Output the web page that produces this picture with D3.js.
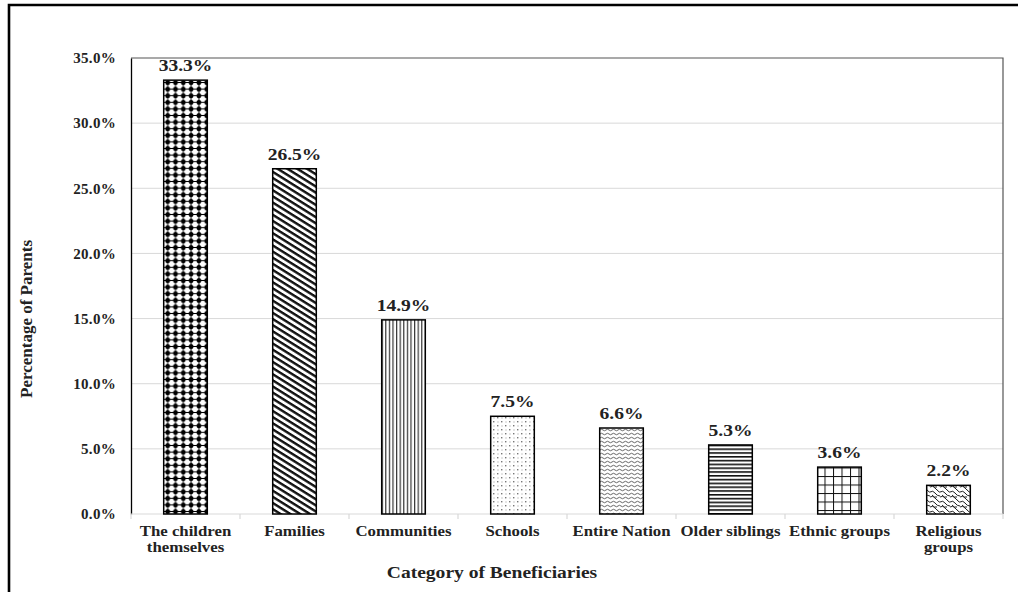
<!DOCTYPE html>
<html>
<head>
<meta charset="utf-8">
<script src="https://cdn.jsdelivr.net/npm/d3@7"></script>
<style>
  html, body { margin: 0; padding: 0; background: #fff; }
  svg text { font-family: "Liberation Serif", "Times New Roman", serif; font-weight: bold; fill: #222; }
</style>
</head>
<body>
<svg id="chart" width="1018" height="592"></svg>
<script>
// Beneficiary categories and share of parents (%)
const categories = ["The children themselves", "Families", "Communities", "Schools",
                    "Entire Nation", "Older siblings", "Ethnic groups", "Religious groups"];
const categoryLines = [["The children", "themselves"], ["Families"], ["Communities"], ["Schools"],
                       ["Entire Nation"], ["Older siblings"], ["Ethnic groups"], ["Religious", "groups"]];
const values = [33.3, 26.5, 14.9, 7.5, 6.6, 5.3, 3.6, 2.2];
const yTicks = [0, 5, 10, 15, 20, 25, 30, 35];
const patternIds = ["p-dots", "p-diag", "p-vert", "p-confetti", "p-wave", "p-horiz", "p-grid", "p-shingle"];

const svg = d3.select("#chart");
const margin = { left: 131, top: 58, right: 1003, bottom: 514 };
const WIDE = 1.15; // horizontal stretch of the bold serif labels

const x = d3.scaleBand().domain(categories).range([margin.left, margin.right])
  .paddingInner(0.6).paddingOuter(0.3);
const y = d3.scaleLinear().domain([0, 35]).range([margin.bottom, margin.top]);

// ---- fill patterns ----
const defs = svg.append("defs");
function pat(id, w, h, extra) {
  const p = defs.append("pattern").attr("id", id).attr("patternUnits", "userSpaceOnUse")
    .attr("width", w).attr("height", h);
  if (extra) extra(p);
  p.append("rect").attr("width", w).attr("height", h).attr("fill", "#fff");
  return p;
}
// large dots
{
  const p = pat("p-dots", 7.8, 6.6);
  p.append("circle").attr("cx", 3.9).attr("cy", 3.3).attr("r", 2.4).attr("fill", "#000");
  p.append("rect").attr("x", 3.4).attr("y", 0).attr("width", 1).attr("height", 6.6).attr("fill", "#000");
  p.append("rect").attr("x", 0).attr("y", 2.8).attr("width", 7.8).attr("height", 1).attr("fill", "#000");
}
// wide downward diagonal
{
  const p = pat("p-diag", 10, 5.2, p => p.attr("patternTransform", "rotate(32)"));
  p.append("rect").attr("x", 0).attr("y", 0).attr("width", 10).attr("height", 2.4).attr("fill", "#111");
}
// vertical lines
{
  const p = pat("p-vert", 3.6, 10);
  p.append("rect").attr("x", 0).attr("y", 0).attr("width", 1.2).attr("height", 10).attr("fill", "#333");
}
// small confetti
{
  const p = pat("p-confetti", 8, 8);
  p.append("rect").attr("x", 1).attr("y", 1).attr("width", 1.4).attr("height", 1.4).attr("fill", "#777");
  p.append("rect").attr("x", 5).attr("y", 5).attr("width", 1.4).attr("height", 1.4).attr("fill", "#777");
  p.append("rect").attr("x", 5.5).attr("y", 1.5).attr("width", 1).attr("height", 1).attr("fill", "#999");
  p.append("rect").attr("x", 1.5).attr("y", 5.5).attr("width", 1).attr("height", 1).attr("fill", "#999");
}
// wave
{
  const p = pat("p-wave", 6, 4);
  p.append("path").attr("d", "M0,2 Q1.5,0.5 3,2 T6,2").attr("fill", "none")
    .attr("stroke", "#555").attr("stroke-width", 0.9);
}
// horizontal lines
{
  const p = pat("p-horiz", 10, 3.8);
  p.append("rect").attr("x", 0).attr("y", 0).attr("width", 10).attr("height", 1.6).attr("fill", "#111");
}
// large grid
{
  const p = pat("p-grid", 8.5, 8.5);
  p.append("rect").attr("x", 0).attr("y", 0).attr("width", 1).attr("height", 8.5).attr("fill", "#111");
  p.append("rect").attr("x", 0).attr("y", 0).attr("width", 8.5).attr("height", 1).attr("fill", "#111");
}
// shingle / weave
{
  const p = pat("p-shingle", 10, 10);
  p.append("path").attr("d", "M0,2 Q3,0 5,3 T10,6 M0,7 Q3,5 5,8 T10,11 M-5,-3 Q-2,-5 0,-2").attr("fill", "none")
    .attr("stroke", "#222").attr("stroke-width", 1);
  p.append("path").attr("d", "M2,5 Q4,8 7,7 M7,0 Q9,3 12,2").attr("fill", "none")
    .attr("stroke", "#222").attr("stroke-width", 1);
}

// ---- outer frame ----
svg.append("path").attr("d", "M9,600 L9,5 L1025,5").attr("fill", "none")
  .attr("stroke", "#000").attr("stroke-width", 2.6);

// ---- gridlines ----
svg.append("g").selectAll("line").data(yTicks.filter(t => t > 0 && t < 35)).join("line")
  .attr("x1", margin.left).attr("x2", margin.right)
  .attr("y1", d => y(d)).attr("y2", d => y(d))
  .attr("stroke", "#d9d9d9").attr("stroke-width", 1);

// plot area top and right border
svg.append("path")
  .attr("d", `M${margin.left},${margin.top} L${margin.right},${margin.top} L${margin.right},${margin.bottom}`)
  .attr("fill", "none").attr("stroke", "#555").attr("stroke-width", 1.2);

// ---- y axis ----
const yAxis = svg.append("g").attr("transform", `translate(${margin.left},0)`)
  .call(d3.axisLeft(y).tickValues(yTicks).tickSize(0).tickPadding(15)
    .tickFormat(d => d.toFixed(1) + "%"));
yAxis.select(".domain").attr("stroke", "#000").attr("stroke-width", 1.3);
yAxis.selectAll("text").style("font-size", "15px").attr("fill", "#222")
  .style("letter-spacing", "0.3px")
  .style("font-family", "'Liberation Serif', serif").style("font-weight", "bold");

// ---- x axis ----
svg.append("line").attr("x1", margin.left).attr("x2", margin.right)
  .attr("y1", margin.bottom).attr("y2", margin.bottom)
  .attr("stroke", "#d9d9d9").attr("stroke-width", 1.2);
const step = x.step();
const boundaries = d3.range(categories.length + 1).map(i => margin.left + i * step);
svg.append("g").selectAll("line").data(boundaries).join("line")
  .attr("x1", d => d).attr("x2", d => d)
  .attr("y1", margin.bottom).attr("y2", margin.bottom + 5)
  .attr("stroke", "#d9d9d9").attr("stroke-width", 1.2);

const catG = svg.append("g").selectAll("text").data(categories).join("text")
  .attr("text-anchor", "middle").style("font-size", "15px")
  .attr("transform", d => `translate(${x(d) + x.bandwidth() / 2},536) scale(1.12,1)`);
catG.each(function (d, i) {
  d3.select(this).selectAll("tspan").data(categoryLines[i]).join("tspan")
    .attr("x", 0).attr("dy", (t, j) => j === 0 ? 0 : 16.5).text(t => t);
});

// ---- bars ----
svg.append("g").selectAll("rect").data(values).join("rect")
  .attr("x", (d, i) => x(categories[i]))
  .attr("width", x.bandwidth())
  .attr("y", d => y(d))
  .attr("height", d => y(0) - y(d))
  .attr("fill", (d, i) => `url(#${patternIds[i]})`)
  .attr("stroke", "#000").attr("stroke-width", 1.5);

// value labels
svg.append("g").selectAll("text").data(values).join("text")
  .attr("text-anchor", "middle").style("font-size", "17px")
  .attr("transform", (d, i) => `translate(${x(categories[i]) + x.bandwidth() / 2},${y(d) - 9}) scale(${WIDE},1)`)
  .text(d => d.toFixed(1) + "%");

// ---- axis titles ----
svg.append("text").attr("text-anchor", "middle").style("font-size", "17px")
  .attr("transform", `translate(492,578) scale(${WIDE},1)`).text("Category of Beneficiaries");
svg.append("text").attr("text-anchor", "middle").style("font-size", "17px")
  .attr("transform", "translate(32,319) rotate(-90)").text("Percentage of Parents");
</script>
</body>
</html>
